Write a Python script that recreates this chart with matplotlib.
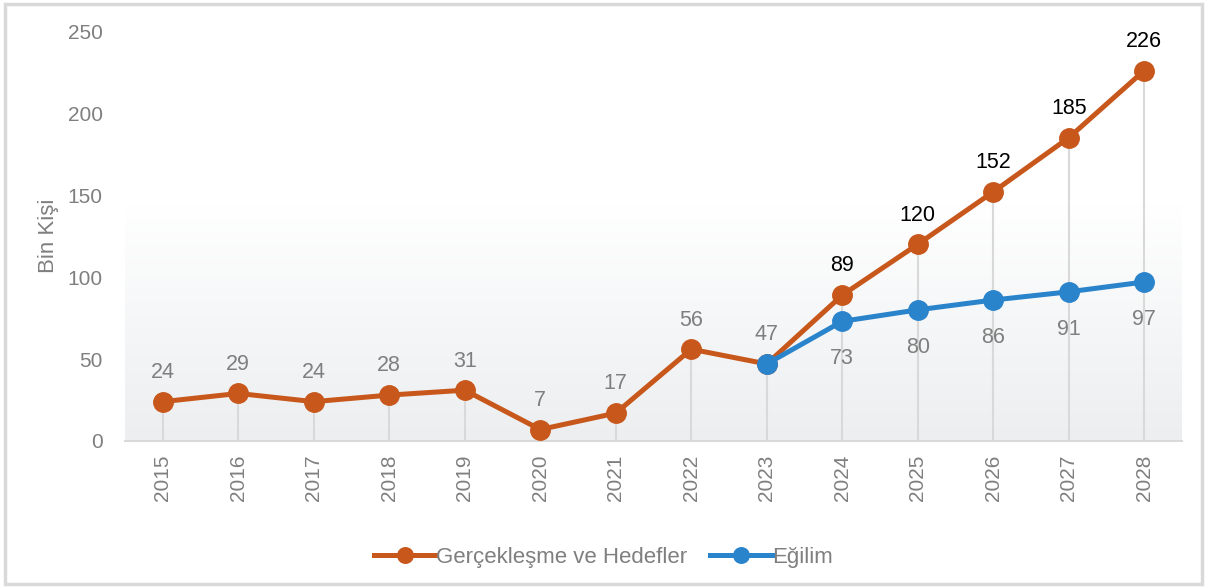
import matplotlib.pyplot as plt
import numpy as np
from matplotlib.patches import Rectangle
from matplotlib.colors import LinearSegmentedColormap

plt.rcParams['font.family'] = ['Liberation Sans', 'DejaVu Sans']

years = [2015, 2016, 2017, 2018, 2019, 2020, 2021, 2022, 2023, 2024, 2025, 2026, 2027, 2028]
actual = [24, 29, 24, 28, 31, 7, 17, 56, 47, 89, 120, 152, 185, 226]
trend_years = [2023, 2024, 2025, 2026, 2027, 2028]
trend = [47, 73, 80, 86, 91, 97]

orange = '#C8571B'
blue = '#2A84CC'
gray_txt = '#7F7F7F'

fig = plt.figure(figsize=(12.07, 5.88), dpi=100)
ax = fig.add_axes([0.1036, 0.25, 0.8757, 0.697])

x = np.arange(len(years))
tx = np.array([years.index(y) for y in trend_years])

# soft gray gradient behind the lower part of the plot (white on top)
grad = np.linspace(1, 0, 256).reshape(-1, 1)
cm = LinearSegmentedColormap.from_list('g', ['#ffffff', '#eceef0'])
ax.imshow(grad, extent=(-0.5, len(years) - 0.5, 0, 144), aspect='auto',
          cmap=cm, vmin=0, vmax=1, zorder=0, origin='lower')

# drop lines down to the axis
top = list(actual)
for i, v in zip(tx, trend):
    top[i] = max(top[i], v)
ax.vlines(x, 0, top, color='#d9d9d9', lw=1.5, zorder=1)

ax.plot(x, actual, color=orange, lw=3.6, marker='o', ms=14, zorder=3,
        label='Gerçekleşme ve Hedefler')
ax.plot(tx, trend, color=blue, lw=3.6, marker='o', ms=14, zorder=4,
        label='Eğilim')

for i, v in enumerate(actual):
    col = 'black' if years[i] >= 2024 else gray_txt
    ax.annotate(str(v), (x[i], v), xytext=(0, 21), textcoords='offset points',
                ha='center', va='center', fontsize=15.5, color=col)
for i, v in zip(tx[1:], trend[1:]):
    ax.annotate(str(v), (i, v), xytext=(0, -27), textcoords='offset points',
                ha='center', va='center', fontsize=15.5, color=gray_txt)

ax.set_xlim(-0.5, len(years) - 0.5)
ax.set_ylim(0, 250)
ax.set_yticks([0, 50, 100, 150, 200, 250])
ax.set_xticks(x)
ax.set_xticklabels([str(y) for y in years], rotation=90)
ax.tick_params(axis='both', length=0, labelsize=15, labelcolor=gray_txt)
ax.tick_params(axis='y', pad=16)
ax.tick_params(axis='x', pad=10)
for s in ['top', 'right', 'left']:
    ax.spines[s].set_visible(False)
ax.spines['bottom'].set_color('#d9d9d9')
ax.spines['bottom'].set_linewidth(1.5)
ax.set_ylabel('Bin Kişi', fontsize=16, color=gray_txt, labelpad=6)

leg = fig.legend(loc='center', bbox_to_anchor=(0.5, 0.052), ncol=2, frameon=False,
                 fontsize=16, handlelength=2.8, handletextpad=0.0, columnspacing=1.0,
                 markerscale=0.8)
for t in leg.get_texts():
    t.set_color(gray_txt)

# outer frame
fig.patches.append(Rectangle((0.004, 0.007), 0.992, 0.986, transform=fig.transFigure,
                             fill=False, ec='#d9d9d9', lw=2.5))

fig.savefig('out.png', dpi=100)
